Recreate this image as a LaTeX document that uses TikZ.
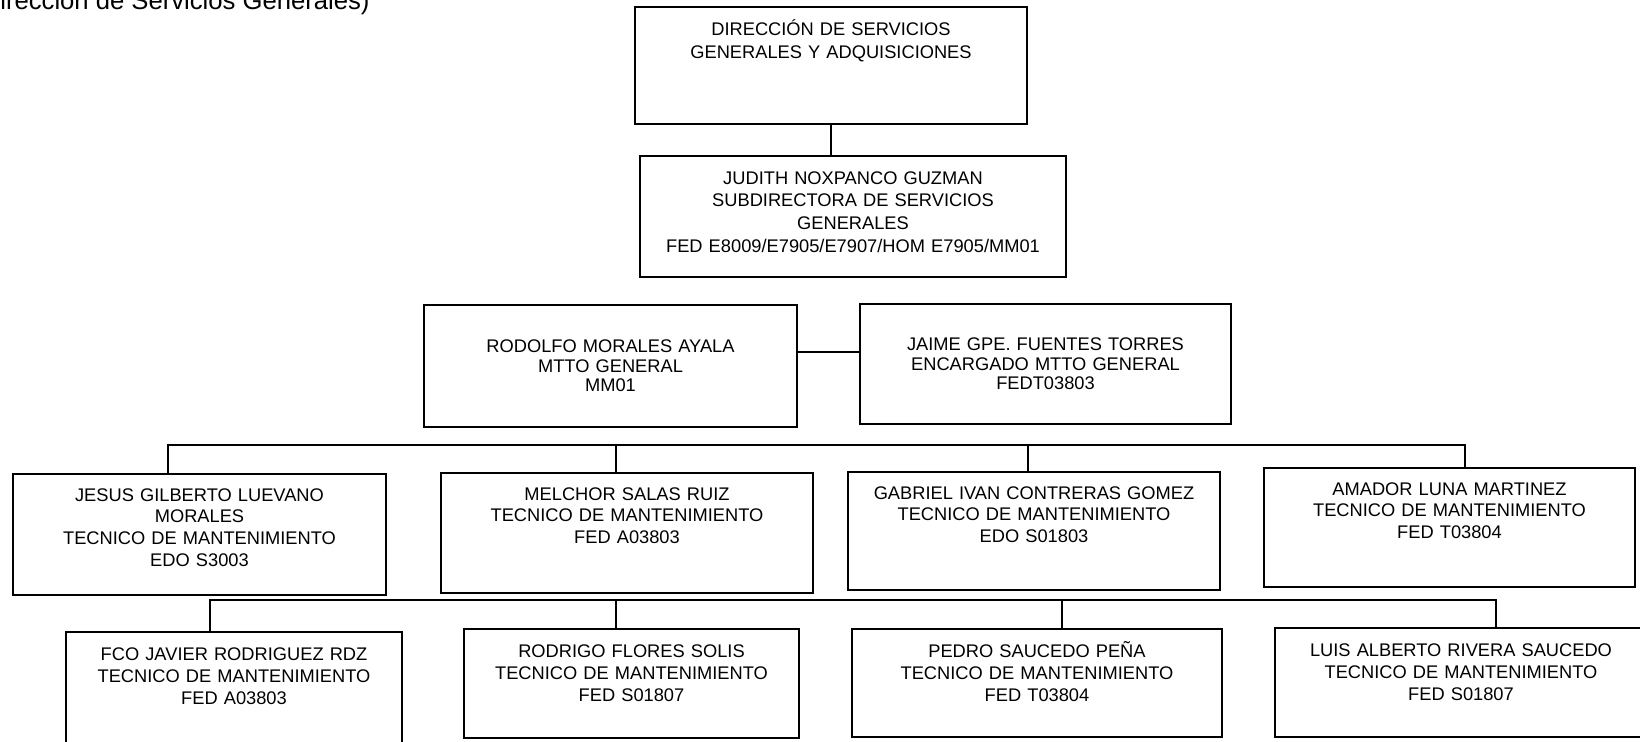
\documentclass[tikz,border=0pt]{standalone}
\usepackage{fontspec}
\setmainfont{Liberation Sans}
\begin{document}
\begin{tikzpicture}[
  x=0.02cm, y=-0.02cm,
  puesto/.style 2 args={draw, line width=0.7pt, inner sep=0pt, align=center,
    font=\fontsize{10.4}{12.5}\selectfont, text width=#1,
    text height=0.54cm, text depth=#2},
  jefe/.style 2 args={draw, line width=0.7pt, inner sep=0pt, align=center,
    font=\fontsize{10.4}{11.2}\selectfont, text width=#1, minimum height=#2},
  linea/.style={line width=1.1pt},
  titulo/.style={font=\fontsize{14.6}{16}\selectfont, inner sep=0pt},
]
\clip (0,0) rectangle (1640,741);
% encabezado
\node[titulo, anchor=base west] (tit) at (0,9.3) {irección de Servicios Generales)};
% direccion y subdireccion
\node[puesto={7.84cm}{1.78cm}, text height=0.56cm, font=\fontsize{10.4}{13.4}\selectfont] (dir) at (831,65.5) {DIRECCIÓN DE SERVICIOS\\GENERALES Y ADQUISICIONES};
\node[puesto={8.52cm}{1.86cm}, text height=0.56cm, font=\fontsize{10.4}{12.9}\selectfont] (subdir) at (853,216.5) {JUDITH NOXPANCO GUZMAN\\SUBDIRECTORA DE SERVICIOS\\GENERALES\\FED E8009/E7905/E7907/HOM E7905/MM01};
\draw[linea] (dir.south) -- (dir.south |- subdir.north);
% mantenimiento general
\node[jefe={7.46cm}{2.44cm}] (mtto) at (610.5,366) {RODOLFO MORALES AYALA\\MTTO GENERAL\\MM01};
\node[jefe={7.42cm}{2.40cm}] (encmtto) at (1045.5,364) {JAIME GPE. FUENTES TORRES\\ENCARGADO MTTO GENERAL\\FEDT03803};
\draw[linea] ([yshift=0.28cm]mtto.east) -- ([yshift=0.28cm]mtto.east -| encmtto.west);
% tecnicos, primera fila
\node[puesto={7.46cm}{1.88cm}] (jesus) at (199.5,534.5) {JESUS GILBERTO LUEVANO\\MORALES\\TECNICO DE MANTENIMIENTO\\EDO S3003};
\node[puesto={7.44cm}{1.86cm}] (melchor) at (627,533) {MELCHOR SALAS RUIZ\\TECNICO DE MANTENIMIENTO\\FED A03803};
\node[puesto={7.44cm}{1.82cm}] (gabriel) at (1034,531) {GABRIEL IVAN CONTRERAS GOMEZ\\TECNICO DE MANTENIMIENTO\\EDO S01803};
\node[puesto={7.42cm}{1.84cm}] (amador) at (1449.5,527.5) {AMADOR LUNA MARTINEZ\\TECNICO DE MANTENIMIENTO\\FED T03804};
\coordinate (b1w) at (168,445);
\coordinate (b1e) at (1465,445);
\coordinate (b1a) at (616,445);
\coordinate (b1b) at (1028,445);
\draw[linea] (jesus.north -| b1w) -- (b1w) -- (b1e) -- (amador.north -| b1e);
\draw[linea] (b1a) -- (b1a |- melchor.north);
\draw[linea] (b1b) -- (b1b |- gabriel.north);
% tecnicos, segunda fila
\node[puesto={6.72cm}{1.69cm}, text height=0.57cm] (fco) at (234,688.5) {FCO JAVIER RODRIGUEZ RDZ\\TECNICO DE MANTENIMIENTO\\FED A03803};
\node[puesto={6.70cm}{1.61cm}, text height=0.57cm] (rodrigo) at (631.5,683.5) {RODRIGO FLORES SOLIS\\TECNICO DE MANTENIMIENTO\\FED S01807};
\node[puesto={7.40cm}{1.59cm}, text height=0.57cm] (pedro) at (1037,683) {PEDRO SAUCEDO PEÑA\\TECNICO DE MANTENIMIENTO\\FED T03804};
\node[puesto={7.44cm}{1.61cm}, text height=0.57cm] (luis) at (1461,682.5) {LUIS ALBERTO RIVERA SAUCEDO\\TECNICO DE MANTENIMIENTO\\FED S01807};
\coordinate (b2w) at (210,600);
\coordinate (b2e) at (1496,600);
\coordinate (b2a) at (616,600);
\coordinate (b2b) at (1062,600);
\draw[linea] (fco.north -| b2w) -- (b2w) -- (b2e) -- (luis.north -| b2e);
\draw[linea] (b2a) -- (b2a |- rodrigo.north);
\draw[linea] (b2b) -- (b2b |- pedro.north);
\end{tikzpicture}
\end{document}
